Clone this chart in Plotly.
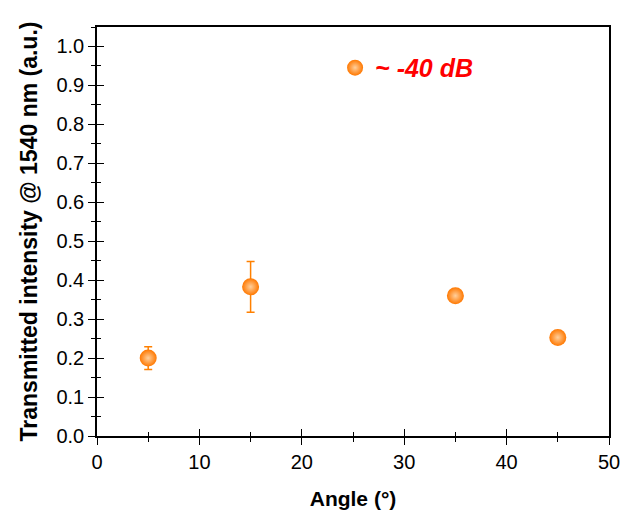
import plotly.graph_objects as go

angles = [5, 15, 35, 45]
intensity = [0.200, 0.383, 0.360, 0.253]
errors = [0.029, 0.065, 0.008, 0.006]
legend_label = "~ -40 dB"

orange = "#ff8000"
font = "Liberation Sans, Arial, sans-serif"

fig = go.Figure()
fig.add_trace(go.Scatter(
    x=angles, y=intensity, mode="markers", name=legend_label,
    error_y=dict(type="data", array=errors, visible=True, color=orange, thickness=1.5, width=4),
    marker=dict(size=17, color="#ff7800", gradient=dict(type="radial", color="#ffcf9c"),
                line=dict(width=0)),
))
# invisible trace to carry the inner-tick overlay axes
fig.add_trace(go.Scatter(x=[None], y=[None], xaxis="x2", yaxis="y2", showlegend=False, hoverinfo="skip"))

common = dict(showline=True, linecolor="black", linewidth=1.5, showgrid=False, zeroline=False,
              tickcolor="black", tickwidth=1.2, automargin=False)
fig.update_layout(
    width=624, height=513,
    margin=dict(l=97, r=15, t=27, b=77, autoexpand=False),
    paper_bgcolor="white", plot_bgcolor="white",
    font=dict(family=font, size=20, color="black"),
    xaxis=dict(range=[0, 50], dtick=10, ticks="outside", ticklen=7, mirror=True,
               minor=dict(dtick=5, ticks="outside", ticklen=4, tickcolor="black"),
               title=dict(text="<b>Angle (°)</b>", font=dict(size=21), standoff=20), **common),
    yaxis=dict(range=[0, 1.05], dtick=0.1, tickformat=".1f", ticks="outside", ticklen=7, mirror=True,
               minor=dict(dtick=0.05, ticks="outside", ticklen=4, tickcolor="black"),
               title=dict(text="<b>Transmitted intensity @ 1540 nm (a.u.)</b>", font=dict(size=23), standoff=12),
               **common),
    xaxis2=dict(range=[0, 50], dtick=10, ticks="inside", ticklen=7, overlaying="x", anchor="y2",
                showticklabels=False, minor=dict(dtick=5, ticks="inside", ticklen=4, tickcolor="black"),
                **common),
    yaxis2=dict(range=[0, 1.05], dtick=0.1, ticks="inside", ticklen=7, overlaying="y", anchor="x2",
                side="left", showticklabels=False,
                minor=dict(dtick=0.05, ticks="inside", ticklen=4, tickcolor="black"),
                **common),
    showlegend=True,
    legend=dict(x=0.465, y=0.90, xanchor="left", yanchor="middle", bgcolor="rgba(0,0,0,0)",
                font=dict(size=25, color="#ff0000", weight="bold", style="italic", family=font),
                itemwidth=30),
)
fig.write_html("out.html", config={"displayModeBar": False},
               post_script="document.body.style.margin='0';document.body.style.overflow='hidden';")
